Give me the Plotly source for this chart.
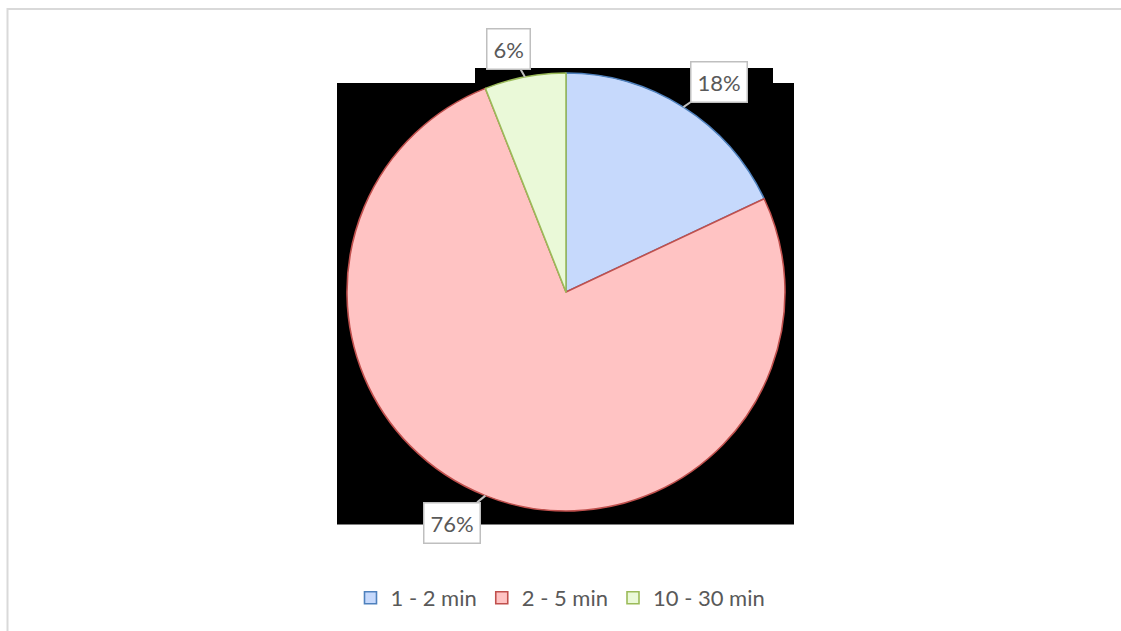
import math
import plotly.graph_objects as go

# Response-time categories and their share of answers (percent)
categories = ["1 - 2 min", "2 - 5 min", "10 - 30 min"]
shares = [18, 76, 6]

fill_colors = ["#c6d9fc", "#ffc3c3", "#eaf9d8"]
edge_colors = ["#4f81bd", "#c0504d", "#9bbb59"]

W, H = 1121, 631
PIE_X = [347 / W, 785 / W]
PIE_Y = [1 - 511 / H, 1 - 73 / H]
RADIUS_PX = 219
# pixel offset of each callout box from the slice edge it points to
CALLOUT_OFFSETS = [(36, -25), (-33, 27), (-16, -28)]

TEXT_COLOR = "#595959"
FONT = "Lato"

fig = go.Figure()
fig.add_trace(go.Pie(
    labels=categories,
    values=shares,
    sort=False,
    direction="clockwise",
    rotation=0,
    textinfo="none",
    hoverinfo="label+percent",
    marker=dict(colors=fill_colors, line=dict(color=edge_colors, width=1.6)),
    domain=dict(x=PIE_X, y=PIE_Y),
))

# Boxed percentage callouts with leader lines to each slice
cx = sum(PIE_X) / 2
cy = sum(PIE_Y) / 2
total = sum(shares)
annotations = []
start = 0.0
for value, (ox, oy) in zip(shares, CALLOUT_OFFSETS):
    frac = value / total
    mid = 2 * math.pi * (start + frac / 2)
    start += frac
    tip_x = cx + RADIUS_PX * math.sin(mid) / W
    tip_y = cy + RADIUS_PX * math.cos(mid) / H
    annotations.append(dict(
        x=tip_x, y=tip_y, xref="paper", yref="paper",
        text=f"{round(frac * 100)}%",
        showarrow=True, arrowhead=0, arrowwidth=2, arrowcolor="#bfbfbf",
        ax=ox, ay=oy, standoff=0,
        bgcolor="white", bordercolor="#bfbfbf", borderwidth=1.5, borderpad=6,
        font=dict(family=FONT, size=22, color=TEXT_COLOR),
    ))

shapes = [
    # dark backdrop behind the pie
    dict(type="rect", xref="paper", yref="paper", layer="below",
         x0=337 / W, x1=794 / W, y0=1 - 524.5 / H, y1=1 - 83 / H,
         fillcolor="black", line=dict(width=0)),
    dict(type="rect", xref="paper", yref="paper", layer="below",
         x0=475 / W, x1=773 / W, y0=1 - 83.5 / H, y1=1 - 68 / H,
         fillcolor="black", line=dict(width=0)),
    # chart frame
    dict(type="rect", xref="paper", yref="paper", layer="below",
         x0=7.5 / W, x1=1.05, y0=-0.05, y1=1 - 9 / H,
         fillcolor="rgba(0,0,0,0)", line=dict(color="#d9d9d9", width=2)),
]

fig.update_layout(
    width=W, height=H,
    margin=dict(l=0, r=0, t=0, b=0),
    paper_bgcolor="white",
    plot_bgcolor="white",
    font=dict(family=FONT, size=22, color=TEXT_COLOR),
    showlegend=True,
    legend=dict(orientation="h", x=0.5, xanchor="center", y=1 - 598 / H, yanchor="middle",
                font=dict(family=FONT, size=22, color=TEXT_COLOR),
                bgcolor="rgba(0,0,0,0)", traceorder="normal"),
    annotations=annotations,
    shapes=shapes,
)

fig.write_html("out.html")
